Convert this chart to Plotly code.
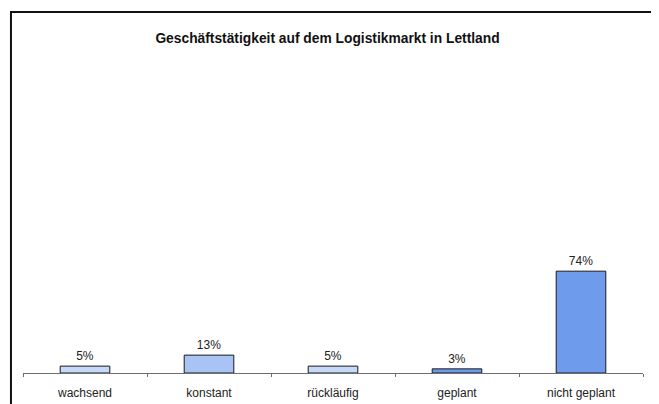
import plotly.graph_objects as go

categories = ["wachsend", "konstant", "rückläufig", "geplant", "nicht geplant"]
shares = [5, 13, 5, 3, 74]
bar_colors = ["#C7D9F8", "#A9C3F5", "#C7D9F8", "#6E98E8", "#6E9BEC"]

title_text = "Geschäftstätigkeit auf dem Logistikmarkt in Lettland"

# page body has an 8px margin, so the figure is sized to the visible area
fig = go.Figure()
fig.add_bar(
    x=categories,
    y=shares,
    width=0.4,
    marker=dict(color=bar_colors, line=dict(color="#1a1a1a", width=1)),
    text=[f"{v}%" for v in shares],
    textposition="outside",
    textfont=dict(family="Liberation Sans, Arial", size=12, color="#222222"),
    cliponaxis=False,
    showlegend=False,
)

fig.update_layout(
    width=651,
    height=396,
    margin=dict(l=15, r=16, t=32, b=31),
    paper_bgcolor="white",
    plot_bgcolor="white",
    font=dict(family="Liberation Sans, Arial", size=12, color="#222222"),
    title=dict(
        text=f"<b>{title_text}</b>",
        font=dict(size=13.8, color="#111111"),
        x=0.4908,
        xanchor="center",
        xref="container",
        y=1 - 30 / 396,
        yanchor="middle",
        yref="container",
    ),
)

fig.update_xaxes(
    automargin=False,
    showline=True,
    linecolor="#6e6e6e",
    linewidth=1,
    ticks="outside",
    tickson="boundaries",
    ticklen=3,
    tickcolor="#6e6e6e",
    ticklabelstandoff=9,
    showgrid=False,
    tickfont=dict(size=12, color="#222222"),
)
fig.update_yaxes(
    automargin=False,
    range=[0, 242],
    visible=False,
    showgrid=False,
    zeroline=False,
)

# outer chart frame
fig.add_shape(
    type="rect",
    xref="paper",
    yref="paper",
    x0=-0.0194,
    x1=1.0177,
    y0=-0.15,
    y1=1.0841,
    line=dict(color="#111111", width=2),
    fillcolor="rgba(0,0,0,0)",
)

fig.write_html("out.html")
